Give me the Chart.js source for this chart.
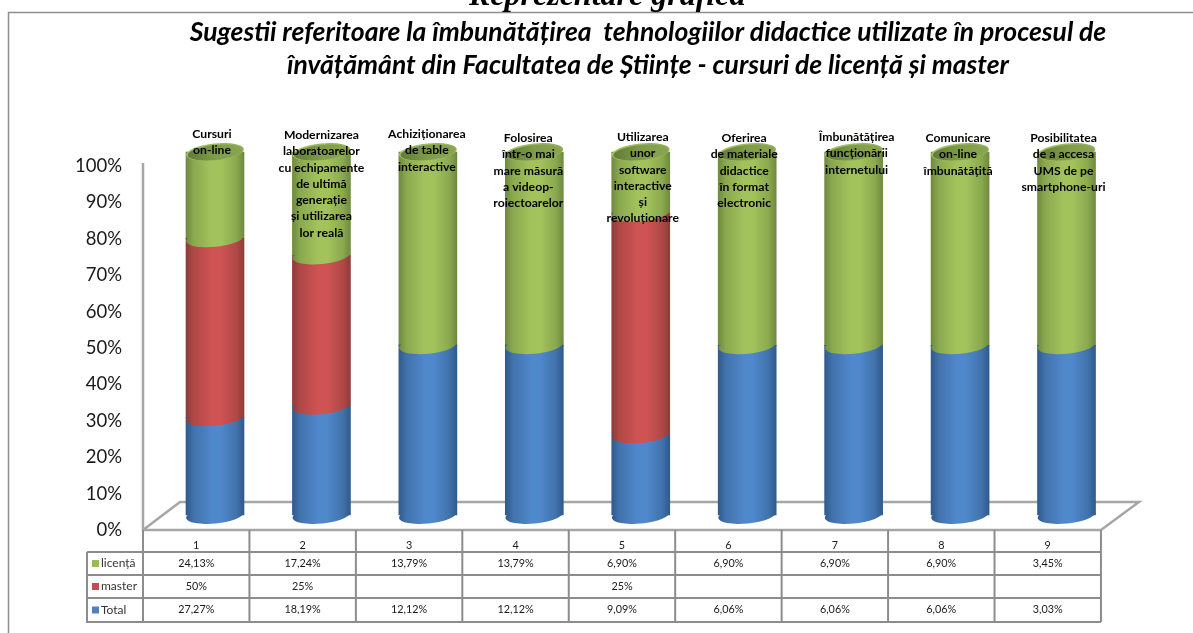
<!DOCTYPE html>
<html>
<head>
<meta charset="utf-8">
<title>Reprezentare grafică</title>
<style>
  html, body { margin: 0; padding: 0; background: #fff; overflow: hidden; }
  #wrap { position: relative; width: 1193px; height: 633px; }
  canvas { display: block; }
  #heading {
    position: absolute; left: 469px; top: -24px; white-space: nowrap;
    font: italic bold 32px "Liberation Serif", serif; color: #000;
  }
</style>
<script src="https://cdn.jsdelivr.net/npm/chart.js@4/dist/chart.umd.min.js"></script>
</head>
<body>
<div id="wrap">
  <canvas id="chart" width="1193" height="633"></canvas>
  <div id="heading">Reprezentare grafică</div>
</div>
<script>
const titleLines = [
  'Sugestii referitoare la îmbunătățirea  tehnologiilor didactice utilizate în procesul de',
  'învățământ din Facultatea de Științe - cursuri de licență și master'
];
const categories = [1, 2, 3, 4, 5, 6, 7, 8, 9];
const licenta = [24.13, 17.24, 13.79, 13.79, 6.90, 6.90, 6.90, 6.90, 3.45];
const master = [50, 25, null, null, 25, null, null, null, null];
const total = [27.27, 18.19, 12.12, 12.12, 9.09, 6.06, 6.06, 6.06, 3.03];
const yTicks = [0, 10, 20, 30, 40, 50, 60, 70, 80, 90, 100];
const notes = [
  ['Cursuri', 'on-line'],
  ['Modernizarea', 'laboratoarelor', 'cu echipamente', 'de ultimă', 'generație', 'și utilizarea', 'lor reală'],
  ['Achiziționarea', 'de table', 'interactive'],
  ['Folosirea', 'într-o mai', 'mare măsură', 'a videop-', 'roiectoarelor'],
  ['Utilizarea', 'unor', 'software', 'interactive', 'și', 'revoluționare'],
  ['Oferirea', 'de materiale', 'didactice', 'în format', 'electronic'],
  ['Îmbunătățirea', 'funcționării', 'internetului'],
  ['Comunicare', 'on-line', 'îmbunătățită'],
  ['Posibilitatea', 'de a accesa', 'UMS de pe', 'smartphone-uri']
];
// small hand placement of the text boxes over the columns
const noteShiftX = [-3, 0, -1, -6, 2, -3, 3, -2, -3];
const noteTopY = [134, 135, 134, 138, 137, 138, 137, 138, 138];

const FONT = 'Lato, "Noto Sans", sans-serif';
const GRAY = '#8c8c8c';

// 100% stacked: each column is shown as share of its own sum
const sums = categories.map((c, i) => (total[i] || 0) + (master[i] || 0) + (licenta[i] || 0));
const share = arr => categories.map((c, i) => ({ x: c, y: arr[i] ? arr[i] / sums[i] * 100 : 0 }));

function pctLabel(v) {
  if (v === null) return '';
  return (Number.isInteger(v) ? String(v) : v.toFixed(2).replace('.', ',')) + '%';
}

function cylinderFill(edge, semi, mid) {
  return ctx => {
    if (ctx.type !== 'data') return mid;
    const x = ctx.chart.scales.xBars.getPixelForValue(categories[ctx.dataIndex]);
    if (!Number.isFinite(x)) return mid;
    const g = ctx.chart.ctx.createLinearGradient(x - 29, 0, x + 29, 0);
    g.addColorStop(0, edge);
    g.addColorStop(0.13, semi);
    g.addColorStop(0.45, mid);
    g.addColorStop(0.6, mid);
    g.addColorStop(0.87, semi);
    g.addColorStop(1, edge);
    return g;
  };
}

// floor, value axis line and the data table under the plot
const backdrop = {
  id: 'backdrop',
  beforeDatasetsDraw(chart) {
    const c = chart.ctx;
    const x = chart.scales.x;
    const y = chart.scales.y;
    const left = x.getPixelForValue(0.5);
    const right = x.getPixelForValue(9.5);
    const floor = y.getPixelForValue(0);
    c.save();
    c.strokeStyle = '#a6a6a6';
    c.lineWidth = 2.5;
    c.beginPath();
    c.moveTo(left, y.getPixelForValue(100.8));
    c.lineTo(left, floor);
    c.lineTo(right, floor);
    c.lineTo(right + 38, floor - 28);
    c.lineTo(left + 37, floor - 28);
    c.lineTo(left, floor);
    c.stroke();
    c.restore();
  },
  afterDraw(chart) {
    const c = chart.ctx;
    const x = chart.scales.x;
    const rows = [
      { name: 'licență', color: '#9bbb59', values: licenta, top: 552, bottom: 575 },
      { name: 'master', color: '#c0504d', values: master, top: 575, bottom: 598 },
      { name: 'Total', color: '#4f81bd', values: total, top: 598, bottom: 622 }
    ];
    const right = x.getPixelForValue(9.5);
    c.save();
    c.lineWidth = 2;
    // column rules
    for (let i = 0; i <= categories.length; i++) {
      const px = x.getPixelForValue(i + 0.5);
      c.strokeStyle = GRAY;
      c.beginPath();
      c.moveTo(px, 530);
      c.lineTo(px, 622);
      c.stroke();
    }
    c.strokeStyle = GRAY;
    // row rules
    rows.forEach(r => {
      c.beginPath();
      c.moveTo(87, r.top);
      c.lineTo(right, r.top);
      c.stroke();
    });
    c.beginPath();
    c.moveTo(87, 552);
    c.lineTo(87, 622);
    c.lineTo(right, 622);
    c.stroke();

    c.textBaseline = 'middle';
    rows.forEach(r => {
      const mid = (r.top + r.bottom) / 2;
      c.fillStyle = r.color;
      c.fillRect(92, mid - 3.5, 7, 7);
      c.fillStyle = '#333';
      c.textAlign = 'left';
      c.font = '12px ' + FONT;
      c.fillText(r.name, 101, mid);
      c.fillStyle = '#1a1a1a';
      c.textAlign = 'center';
      c.font = '10.8px ' + FONT;
      r.values.forEach((v, i) => c.fillText(pctLabel(v), x.getPixelForValue(categories[i]), mid));
    });
    c.restore();
  }
};

// turns the flat bars into cylinders and writes the column captions
const cylinders = {
  id: 'cylinders',
  afterDatasetsDraw(chart) {
    const c = chart.ctx;
    const ellipse = (x, y, rx, ry, fill) => {
      c.fillStyle = fill;
      c.beginPath();
      c.ellipse(x, y, rx, ry, -0.1, 0, Math.PI * 2);
      c.fill();
    };
    c.save();
    // bottom segment first, so the curved edges overlap upwards
    chart.data.datasets.forEach((ds, d) => {
      chart.getDatasetMeta(d).data.forEach(bar => {
        const p = bar.getProps(['x', 'y', 'base'], true);
        if (Math.abs(p.base - p.y) < 1) return;
        ellipse(p.x, p.base, 29, 8.5, bar.options.backgroundColor);
      });
    });
    // top of each column
    categories.forEach(v => {
      const x = chart.scales.xBars.getPixelForValue(v);
      const y = chart.scales.yBars.getPixelForValue(100);
      const g = c.createLinearGradient(x - 29, 0, x + 29, 0);
      g.addColorStop(0, '#a8c46a');
      g.addColorStop(1, '#93ae58');
      ellipse(x, y, 29, 8.5, g);
      const inner = c.createLinearGradient(x - 29, 0, x + 29, 0);
      inner.addColorStop(0, '#5f7a34');
      inner.addColorStop(0.5, '#7f9c48');
      inner.addColorStop(1, '#8aa653');
      ellipse(x, y + 0.5, 27.5, 7.5, inner);
    });
    // captions
    c.fillStyle = '#000';
    c.textAlign = 'center';
    c.textBaseline = 'middle';
    c.font = 'bold 12.2px ' + FONT;
    notes.forEach((lines, i) => {
      const x = chart.scales.xBars.getPixelForValue(categories[i]) + noteShiftX[i];
      lines.forEach((t, j) => c.fillText(t, x, noteTopY[i] + j * 16.3));
    });
    c.restore();
  }
};

const frame = {
  id: 'frame',
  beforeDraw(chart) {
    const c = chart.ctx;
    c.save();
    c.fillStyle = '#fff';
    c.fillRect(0, 0, 1193, 633);
    c.strokeStyle = '#8e8e8e';
    c.lineWidth = 1.5;
    c.beginPath();
    c.moveTo(8.5, 633);
    c.lineTo(8.5, 12.5);
    c.lineTo(1193, 12.5);
    c.stroke();
    c.restore();
  }
};

const barDefaults = { xAxisID: 'xBars', yAxisID: 'yBars', clip: false, barThickness: 58 };

new Chart(document.getElementById('chart'), {
  type: 'bar',
  data: {
    datasets: [
      { ...barDefaults, label: 'Total', data: share(total), order: 1,
        backgroundColor: cylinderFill('#2f5a8c', '#4172ab', '#5088cc') },
      { ...barDefaults, label: 'master', data: share(master), order: 2,
        backgroundColor: cylinderFill('#8e3c3a', '#b04846', '#cf5353') },
      { ...barDefaults, label: 'licență', data: share(licenta), order: 3,
        backgroundColor: cylinderFill('#6f8a3f', '#8aa94f', '#a2c35c') }
    ]
  },
  options: {
    responsive: false,
    animation: false,
    events: [],
    layout: { padding: { top: 16, right: 40, left: 0, bottom: 0 } },
    plugins: {
      legend: { display: false },
      tooltip: { enabled: false },
      title: {
        display: true,
        text: titleLines,
        fullSize: false,
        color: '#000',
        font: { family: FONT, size: 26.5, weight: 'bold', style: 'italic', lineHeight: 1.245 },
        padding: { top: 0, bottom: 48 }
      }
    },
    scales: {
      x: {
        type: 'linear', position: 'bottom', offset: false, min: 0.5, max: 9.989,
        grid: { display: false, drawTicks: false, tickLength: 0 }, border: { display: false },
        afterBuildTicks: s => { s.ticks = categories.map(v => ({ value: v })); },
        afterFit: s => { s.height = 103; },
        ticks: { color: '#1a1a1a', font: { family: FONT, size: 10.8 }, padding: 9, maxRotation: 0, autoSkip: false }
      },
      y: {
        position: 'left', min: 0, max: 109.89,
        grid: { display: false, drawTicks: false, tickLength: 0 }, border: { display: false },
        afterBuildTicks: s => { s.ticks = yTicks.map(v => ({ value: v })); },
        afterFit: s => { s.width = 143; },
        ticks: { color: '#1a1a1a', font: { family: FONT, size: 18.5 }, padding: 21, callback: v => v + '%' }
      },
      xBars: { type: 'linear', display: false, offset: false, stacked: true, min: 0.3236, max: 9.8126 },
      yBars: { display: false, stacked: true, min: -4.13, max: 106.06 }
    }
  },
  plugins: [frame, backdrop, cylinders]
});
</script>
</body>
</html>
